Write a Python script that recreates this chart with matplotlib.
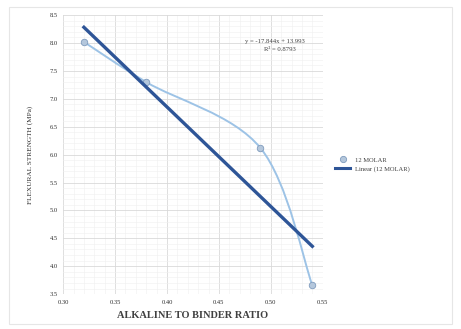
import matplotlib
matplotlib.use("Agg")
from matplotlib import pyplot as plt
from matplotlib.path import Path
from matplotlib.patches import PathPatch, Rectangle
from matplotlib.ticker import MultipleLocator, FormatStrFormatter
from matplotlib.lines import Line2D
import numpy as np

plt.rcParams["font.family"] = ["Liberation Serif", "DejaVu Serif"]

# values
ratio = [0.32, 0.38, 0.49, 0.54]
strength = [8.02, 7.30, 6.12, 3.66]
x_ticks = [0.30, 0.35, 0.40, 0.45, 0.50, 0.55]
y_ticks = [3.5, 4.0, 4.5, 5.0, 5.5, 6.0, 6.5, 7.0, 7.5, 8.0, 8.5]
series_name = "12 MOLAR"

fig = plt.figure(figsize=(4.61, 3.29), dpi=100)
ax = fig.add_axes([0.137, 0.106, 0.563, 0.848])

ax.set_xlim(x_ticks[0], x_ticks[-1])
ax.set_ylim(y_ticks[0], y_ticks[-1])
ax.set_xticks(x_ticks)
ax.set_yticks(y_ticks)
ax.xaxis.set_major_formatter(FormatStrFormatter("%.2f"))
ax.yaxis.set_major_formatter(FormatStrFormatter("%.1f"))
ax.xaxis.set_minor_locator(MultipleLocator(0.01))
ax.yaxis.set_minor_locator(MultipleLocator(0.1))
ax.grid(which="major", color="#d9d9d9", linewidth=0.6)
ax.grid(which="minor", color="#f0f0f0", linewidth=0.4)
ax.tick_params(which="both", length=0, labelsize=4.7, colors="#303030", pad=4)
for s in ax.spines.values():
    s.set_visible(False)
ax.set_axisbelow(True)

# smoothed series line (excel style bezier through the points)
xr = x_ticks[-1] - x_ticks[0]
yr = y_ticks[-1] - y_ticks[0]
pts = np.column_stack([np.array(ratio) / xr, np.array(strength) / yr])
verts = [pts[0]]
codes = [Path.MOVETO]
n = len(pts)
for i in range(n - 1):
    p0 = pts[i - 1] if i > 0 else pts[i]
    p1 = pts[i]
    p2 = pts[i + 1]
    p3 = pts[i + 2] if i + 2 < n else pts[i + 1]
    c1 = p1 + (p2 - p0) / 6.0
    c2 = p2 - (p3 - p1) / 6.0
    verts += [c1, c2, p2]
    codes += [Path.CURVE4] * 3
verts = np.array(verts) * [xr, yr]
ax.add_patch(PathPatch(Path(verts, codes), facecolor="none", edgecolor="#9dc3e6",
                       linewidth=1.4, zorder=3))
ax.scatter(ratio, strength, s=22, color="#b4c7dc", edgecolors="#7f9bbd",
           linewidths=0.6, zorder=4)

# linear trendline
slope, intercept = np.polyfit(ratio, strength, 1)
fit_x = np.array([ratio[0], ratio[-1]])
ax.plot(fit_x, slope * fit_x + intercept, color="#2e5597", linewidth=2.4, zorder=5)

ax.text(0.475, 8.0, "y = -17.844x + 13.993", fontsize=4.8, color="#404040")
ax.text(0.493, 7.86, "R² = 0.8793", fontsize=4.8, color="#404040")

ax.set_xlabel("ALKALINE TO BINDER RATIO", fontsize=7.5, fontweight="bold",
              color="#404040", labelpad=4.5)
ax.set_ylabel("FLEXURAL STRENGTH (MPa)", fontsize=5.2, color="#303030", labelpad=12)

handles = [
    Line2D([], [], linestyle="none", marker="o", markersize=4.5,
           markerfacecolor="#b4c7dc", markeredgecolor="#7f9bbd", markeredgewidth=0.6),
    Line2D([], [], color="#2e5597", linewidth=2.2),
]
fig.legend(handles, [series_name, "Linear (" + series_name + ")"],
           loc="center left", bbox_to_anchor=(0.715, 0.5), frameon=False,
           fontsize=4.7, handlelength=2.2, labelcolor="#404040")

fig.add_artist(Rectangle((0.02, 0.015), 0.96, 0.965, transform=fig.transFigure,
                         fill=False, edgecolor="#e6e6e6", linewidth=0.8))

plt.savefig("out.png", dpi=100)
